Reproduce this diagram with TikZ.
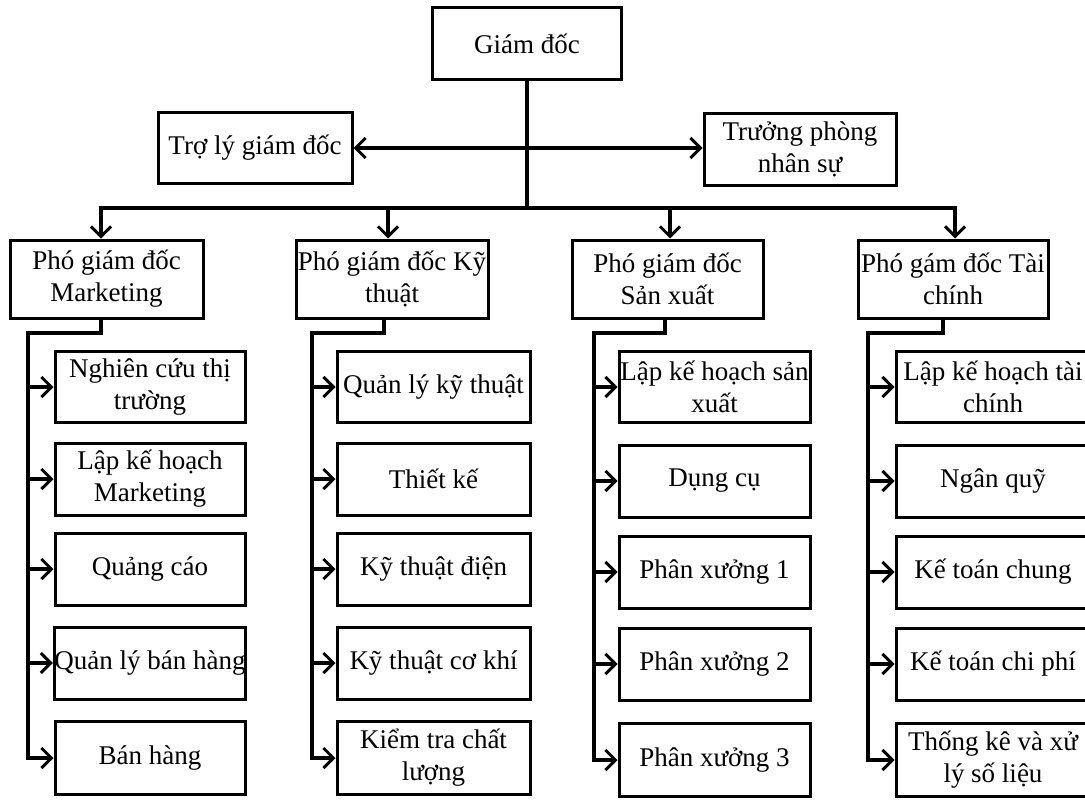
\documentclass[tikz,border=0pt]{standalone}
\usepackage{fontspec}
\setmainfont{Liberation Serif}
\usetikzlibrary{arrows.meta}
\begin{document}
\begin{tikzpicture}[x=1pt,y=-1pt,
  box/.style={draw,line width=3pt,fill=white,inner sep=0pt,align=center,
    font=\fontsize{27}{32}\selectfont},
  boxsize/.style 2 args={minimum width=#1pt,minimum height=#2pt},
  link/.style={line width=3.2pt},
  arr/.style={link,-{Straight Barb[length=10pt,width=20pt,line width=3pt]}}]
\useasboundingbox (0,0) rectangle (1085,800);
\clip (0,0) rectangle (1085,800);
\fill[white] (0,0) rectangle (1085,800);

% top level
\node[box,boxsize={189}{72}] (gd) at (527,44) {Giám đốc};
\node[box,boxsize={194}{71}] (troly) at (255,148) {Trợ lý giám đốc};
\node[box,boxsize={192}{72}] (tp) at (800,149) {Trưởng phòng\\nhân sự};

% deputies
\node[box,boxsize={193}{78}] (pg1) at (106.5,279) {Phó giám đốc\\Marketing};
\node[box,boxsize={192}{78}] (pg2) at (392,279) {Phó giám đốc Kỹ\\thuật};
\node[box,boxsize={191}{78}] (pg3) at (667.5,279) {Phó giám đốc\\Sản xuất};
\node[box,boxsize={190}{78}] (pg4) at (953,279) {Phó gám đốc Tài\\chính};

% departments, column 1
\node[box,boxsize={190}{71}] (m1) at (150,387) {Nghiên cứu thị\\trường};
\node[box,boxsize={190}{72}] (m2) at (150,479) {Lập kế hoạch\\Marketing};
\node[box,boxsize={190}{72}] (m3) at (150,569) {Quảng cáo};
\node[box,boxsize={190}{72}] (m4) at (150,663) {Quản lý bán hàng};
\node[box,boxsize={190}{73}] (m5) at (150,758) {Bán hàng};
% column 2
\node[box,boxsize={193}{71}] (k1) at (433.5,387) {Quản lý kỹ thuật};
\node[box,boxsize={193}{72}] (k2) at (433.5,479) {Thiết kế};
\node[box,boxsize={193}{72}] (k3) at (433.5,569) {Kỹ thuật điện};
\node[box,boxsize={193}{72}] (k4) at (433.5,663) {Kỹ thuật cơ khí};
\node[box,boxsize={193}{73}] (k5) at (433.5,758) {Kiểm tra chất\\lượng};
% column 3
\node[box,boxsize={191}{71}] (s1) at (714.5,387) {Lập kế hoạch sản\\xuất};
\node[box,boxsize={191}{72}] (s2) at (714.5,481) {Dụng cụ};
\node[box,boxsize={191}{72}] (s3) at (714.5,572) {Phân xưởng 1};
\node[box,boxsize={191}{72}] (s4) at (714.5,664) {Phân xưởng 2};
\node[box,boxsize={191}{73}] (s5) at (714.5,760) {Phân xưởng 3};
% column 4
\node[box,boxsize={194}{71}] (t1) at (993,387) {Lập kế hoạch tài\\chính};
\node[box,boxsize={194}{72}] (t2) at (993,481) {Ngân quỹ};
\node[box,boxsize={194}{72}] (t3) at (993,572) {Kế toán chung};
\node[box,boxsize={194}{72}] (t4) at (993,664) {Kế toán chi phí};
\node[box,boxsize={194}{73}] (t5) at (993,760) {Thống kê và xử\\lý số liệu};

% director to staff
\draw[link] (gd.south) -- (527,208);
\draw[arr] (gd.south |- troly.east) -- (troly.east);
\draw[arr] (gd.south |- troly.east) -- (tp.west |- troly.east);

% bus to deputies
\coordinate (b1) at (101,208);
\coordinate (b2) at (388,208);
\coordinate (b3) at (670,208);
\coordinate (b4) at (955,208);
\draw[arr] (b2) -- (b1) -- (b1 |- pg1.north);
\draw[arr] (b3) -- (b4) -- (b4 |- pg4.north);
\draw[link] (b2) -- (b3);
\draw[arr] (b2) -- (b2 |- pg2.north);
\draw[arr] (b3) -- (b3 |- pg3.north);

% deputy to departments
\foreach \p/\c/\ex/\sx in {pg1/m/101/28, pg2/k/384/312, pg3/s/665/594, pg4/t/943/868}{
  \coordinate (e) at (\ex,333);
  \coordinate (sp) at (\sx,333);
  \draw[arr] (\p.south -| e) -- (e) -- (sp) |- (\c5.west);
  \foreach \r in {1,...,4}{
    \draw[arr] (sp |- \c\r.west) -- (\c\r.west);
  }
}
\end{tikzpicture}
\end{document}
